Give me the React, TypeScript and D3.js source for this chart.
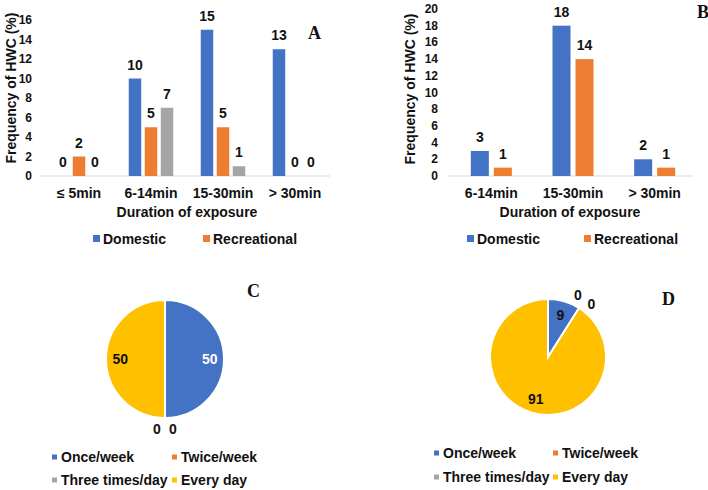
import React from "react";
import * as d3 from "d3";

// ---------- Data ----------
const catsA = ["≤ 5min", "6-14min", "15-30min", "> 30min"];
const domesticA = [0, 10, 15, 13];
const recreationalA = [2, 5, 5, 0];
const otherA = [0, 7, 1, 0];
const ticksA = [0, 2, 4, 6, 8, 10, 12, 14, 16];

const catsB = ["6-14min", "15-30min", "> 30min"];
const domesticB = [3, 18, 2];
const recreationalB = [1, 14, 1];
const ticksB = [0, 2, 4, 6, 8, 10, 12, 14, 16, 18, 20];

const pieLabels = ["Once/week", "Twice/week", "Three times/day", "Every day"];
const pieC = [50, 0, 0, 50];
const pieD = [9, 0, 0, 91];

const barLegend = ["Domestic", "Recreational"];

// ---------- Styles ----------
const BLUE = "#4472C4";
const ORANGE = "#ED7D31";
const GRAY = "#A5A5A5";
const YELLOW = "#FFC000";
const TEXT = "#111";
const FONT = "'Liberation Sans', Arial, sans-serif";
const SERIF = "'Liberation Serif', 'Times New Roman', serif";

type Series = { key: string; values: number[]; color: string };

function BarPanel(props: {
  cats: string[];
  series: Series[];
  ticks: number[];
  yMax: number;
  yRange: [number, number];
  xRange: [number, number];
  axisLine: [number, number];
  groupHalf: number;
  padInner: number;
  tickX: number;
  titleX: number;
  titleY: number;
  xTitleX: number;
  legendX: number[];
  letter: string;
  letterX: number;
  letterY: number;
}) {
  const y = d3.scaleLinear().domain([0, props.yMax]).range(props.yRange);
  const x = d3.scaleBand<string>().domain(props.cats).range(props.xRange);
  const inner = d3
    .scaleBand<string>()
    .domain(props.series.map((s) => s.key))
    .range([-props.groupHalf, props.groupHalf])
    .paddingInner(props.padInner);
  const base = y(0);
  return (
    <g fontFamily={FONT} fontWeight="bold" fill={TEXT}>
      {props.ticks.map((t) => (
        <text key={t} x={props.tickX} y={y(t)} textAnchor="end" dominantBaseline="central" fontSize={12}>
          {t}
        </text>
      ))}
      <line x1={props.axisLine[0]} x2={props.axisLine[1]} y1={base} y2={base} stroke="#D9D9D9" strokeWidth={1} />
      {props.cats.map((c, i) => {
        const cx = (x(c) as number) + x.bandwidth() / 2;
        return (
          <g key={c}>
            {props.series.map((s) => {
              const v = s.values[i];
              const bx = cx + (inner(s.key) as number);
              return (
                <g key={s.key}>
                  {v > 0 && (
                    <rect x={bx} y={y(v)} width={inner.bandwidth()} height={base - y(v)} fill={s.color} />
                  )}
                  <text x={bx + inner.bandwidth() / 2} y={y(v) - 9} textAnchor="middle" fontSize={14}>
                    {v}
                  </text>
                </g>
              );
            })}
            <text x={cx} y={198} textAnchor="middle" fontSize={14}>
              {c}
            </text>
          </g>
        );
      })}
      <text
        transform={`translate(${props.titleX},${props.titleY}) rotate(-90)`}
        textAnchor="middle"
        dominantBaseline="central"
        fontSize={14}
      >
        Frequency of HWC (%)
      </text>
      <text x={props.xTitleX} y={217} textAnchor="middle" fontSize={14}>
        Duration of exposure
      </text>
      {barLegend.map((name, i) => (
        <g key={name}>
          <rect x={props.legendX[i]} y={235} width={7} height={7} fill={props.series[i].color} />
          <text x={props.legendX[i] + 10} y={244} fontSize={14}>
            {name}
          </text>
        </g>
      ))}
      <text x={props.letterX} y={props.letterY} fontFamily={SERIF} fontSize={18} fontWeight="bold">
        {props.letter}
      </text>
    </g>
  );
}

function PiePanel(props: {
  values: number[];
  cx: number;
  cy: number;
  r: number;
  labelColors: string[];
  legendCols: number[];
  legendRows: number[];
  letter: string;
  letterX: number;
  letterY: number;
}) {
  const colors = [BLUE, ORANGE, GRAY, YELLOW];
  const arcs = d3.pie<number>().sort(null).value((d) => d)(props.values);
  const arc = d3.arc<d3.PieArcDatum<number>>().innerRadius(0).outerRadius(props.r);
  const labelArc = d3
    .arc<d3.PieArcDatum<number>>()
    .innerRadius(props.r * 0.76)
    .outerRadius(props.r * 0.76);
  let zeroCount = 0;
  return (
    <g fontFamily={FONT} fontWeight="bold">
      <g transform={`translate(${props.cx},${props.cy})`}>
        {arcs.map((a, i) =>
          a.value > 0 ? (
            <path key={i} d={arc(a) as string} fill={colors[i]} stroke="#fff" strokeWidth={2} />
          ) : null
        )}
        {arcs.map((a, i) => {
          let px: number, py: number;
          if (a.value > 0) {
            [px, py] = labelArc.centroid(a);
          } else {
            const ang = a.startAngle;
            const R = props.r * 1.18;
            const dir = zeroCount === 0 ? -8 : 8;
            zeroCount++;
            px = Math.sin(ang) * R + Math.cos(ang) * dir;
            py = -Math.cos(ang) * R + Math.sin(ang) * dir;
          }
          return (
            <text
              key={"l" + i}
              x={px}
              y={py}
              textAnchor="middle"
              dominantBaseline="central"
              fontSize={14}
              fill={props.labelColors[i]}
            >
              {a.value}
            </text>
          );
        })}
      </g>
      {pieLabels.map((name, i) => {
        const lx = props.legendCols[i % 2];
        const ly = props.legendRows[Math.floor(i / 2)];
        return (
          <g key={name}>
            <rect x={lx - 9} y={ly - 2.5} width={5} height={5} fill={colors[i]} />
            <text x={lx} y={ly} dominantBaseline="central" fontSize={14} fill={TEXT}>
              {name}
            </text>
          </g>
        );
      })}
      <text x={props.letterX} y={props.letterY} fontFamily={SERIF} fontSize={18} fontWeight="bold" fill={TEXT}>
        {props.letter}
      </text>
    </g>
  );
}

export default function App() {
  const seriesA: Series[] = [
    { key: "Domestic", values: domesticA, color: BLUE },
    { key: "Recreational", values: recreationalA, color: ORANGE },
    { key: "Other", values: otherA, color: GRAY },
  ];
  const seriesB: Series[] = [
    { key: "Domestic", values: domesticB, color: BLUE },
    { key: "Recreational", values: recreationalB, color: ORANGE },
  ];
  return (
    <svg
      width={708}
      height={490}
      style={{ position: "absolute", left: 0, top: 0, background: "#fff" }}
    >
      <rect width={708} height={490} fill="#fff" />
      <BarPanel
        cats={catsA}
        series={seriesA}
        ticks={ticksA}
        yMax={16}
        yRange={[176, 20]}
        xRange={[43, 331]}
        axisLine={[40, 330]}
        groupHalf={22.25}
        padInner={0.22}
        tickX={32}
        titleX={11}
        titleY={88}
        xTitleX={187}
        legendX={[93, 203]}
        letter="A"
        letterX={308}
        letterY={39}
      />
      <BarPanel
        cats={catsB}
        series={seriesB}
        ticks={ticksB}
        yMax={20}
        yRange={[176, 9]}
        xRange={[450.5, 695.5]}
        axisLine={[448, 693]}
        groupHalf={20.5}
        padInner={0.217}
        tickX={438}
        titleX={410}
        titleY={89}
        xTitleX={570}
        legendX={[467, 584]}
        letter="B"
        letterX={697}
        letterY={18}
      />
      <PiePanel
        values={pieC}
        cx={165}
        cy={359}
        r={59}
        labelColors={["#fff", TEXT, TEXT, TEXT]}
        legendCols={[61, 181]}
        legendRows={[457, 480]}
        letter="C"
        letterX={247}
        letterY={297}
      />
      <PiePanel
        values={pieD}
        cx={548}
        cy={357}
        r={58}
        labelColors={[TEXT, TEXT, TEXT, TEXT]}
        legendCols={[443, 562]}
        legendRows={[453, 477]}
        letter="D"
        letterX={662}
        letterY={305}
      />
    </svg>
  );
}
